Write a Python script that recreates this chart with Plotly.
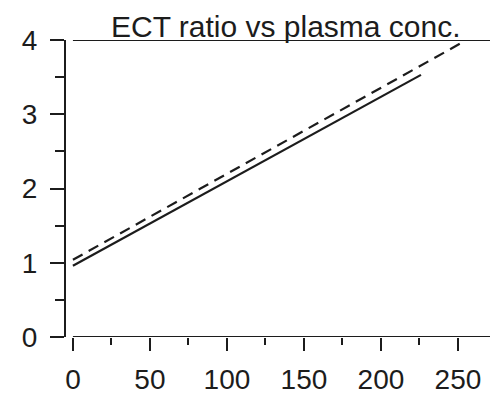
import plotly.graph_objects as go

# Data
solid_x = [0, 50, 100, 150, 200, 226]
solid_y = [0.96, 1.53, 2.10, 2.67, 3.24, 3.53]
dashed_x = [0, 50, 100, 150, 200, 253]
dashed_y = [1.04, 1.62, 2.20, 2.78, 3.36, 3.97]

x_tickvals = [0, 50, 100, 150, 200, 250]
x_ticktext = ["0", "50", "100", "150", "200", "250"]
y_tickvals = [0, 1, 2, 3, 4]
y_ticktext = ["0", "1", "2", "3", "4"]

title_text = "ECT ratio vs plasma conc."

INK = "#1c1c1c"
FONT = "Liberation Sans, Arial, sans-serif"

fig = go.Figure()
fig.add_trace(go.Scatter(x=solid_x, y=solid_y, mode="lines",
                         line=dict(color=INK, width=2.2), showlegend=False))
fig.add_trace(go.Scatter(x=dashed_x, y=dashed_y, mode="lines",
                         line=dict(color=INK, width=2.2, dash="11px,7px"), showlegend=False))

# x-axis baseline (offset from y-axis) and top line
fig.add_shape(type="line", xref="x", yref="y", x0=0, x1=280, y0=0, y1=0,
              line=dict(color=INK, width=2))
fig.add_shape(type="line", xref="x", yref="y", x0=0, x1=280, y0=4, y1=4,
              line=dict(color=INK, width=2))

fig.add_annotation(text=title_text, xref="paper", yref="paper", x=0.509, y=1.0,
                   xanchor="center", yanchor="bottom", showarrow=False,
                   font=dict(family=FONT, size=30, color=INK), yshift=-5)

# page body has an 8px default margin; figure sized to fill the window
fig.update_layout(
    width=490, height=386,
    margin=dict(l=58, r=0, t=32, b=57, autoexpand=False),
    paper_bgcolor="white", plot_bgcolor="white",
    font=dict(family=FONT, size=28, color=INK),
)
fig.update_xaxes(
    automargin=False,
    range=[-4.5, 276], showgrid=False, zeroline=False, showline=False,
    tickmode="array", tickvals=x_tickvals, ticktext=x_ticktext,
    ticks="outside", ticklen=13, tickwidth=2, tickcolor=INK,
    ticklabelstandoff=4,
    minor=dict(tickmode="linear", tick0=0, dtick=25, ticks="outside",
               ticklen=7, tickwidth=2, tickcolor=INK, showgrid=False),
)
fig.update_yaxes(
    automargin=False,
    range=[0, 4], showgrid=False, zeroline=False, showline=True,
    linecolor=INK, linewidth=2,
    tickmode="array", tickvals=y_tickvals, ticktext=y_ticktext,
    ticks="outside", ticklen=14, tickwidth=2, tickcolor=INK,
    ticklabelstandoff=7,
    minor=dict(tickmode="linear", tick0=0, dtick=0.5, ticks="outside",
               ticklen=9, tickwidth=2, tickcolor=INK, showgrid=False),
)

fig.write_html("out.html")
